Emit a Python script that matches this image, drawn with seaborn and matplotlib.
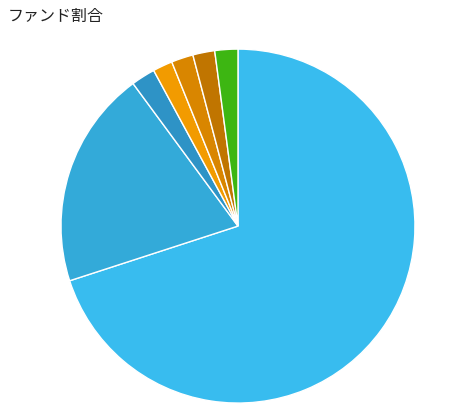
import matplotlib
matplotlib.use("Agg")
import matplotlib.pyplot as plt
import seaborn as sns

# fund share data (clockwise from 12 o'clock)
funds = ["ファンドA", "ファンドB", "ファンドC", "ファンドD", "ファンドE", "ファンドF", "ファンドG"]
shares = [70.0, 19.9, 2.2, 1.8, 2.0, 2.0, 2.1]
colors = ["#38bcef", "#33aad9", "#2e93c6", "#f29b00", "#d98600", "#c07500", "#3db612"]

sns.set_style("white")
plt.rcParams["font.family"] = ["Noto Sans CJK JP", "DejaVu Sans"]

fig = plt.figure(figsize=(4.68, 4.14), dpi=100)
ax = fig.add_axes([0.1303, 0.024, 0.7564, 0.855])
ax.pie(shares, colors=colors, startangle=90, counterclock=False,
       wedgeprops={"edgecolor": "white", "linewidth": 1})
ax.set_xlim(-1, 1)
ax.set_ylim(-1, 1)
ax.set_aspect("equal")
ax.axis("off")

fig.text(8 / 468, 1 - 16 / 414, "ファンド割合", fontsize=11.5, color="#222222",
         va="center", ha="left")

fig.savefig("out.png", dpi=100)
